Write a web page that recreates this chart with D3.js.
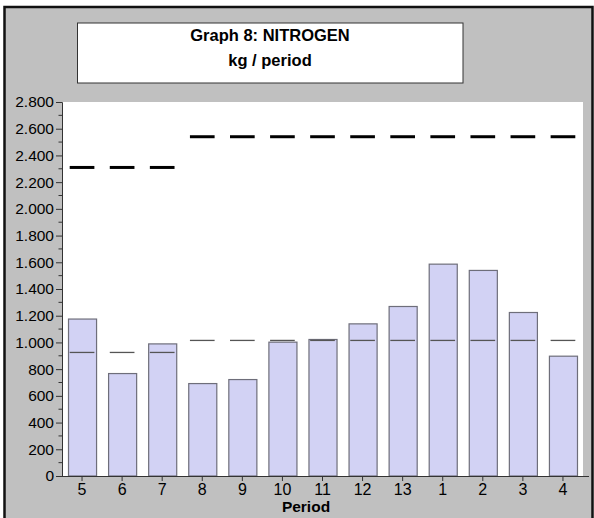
<!DOCTYPE html>
<html>
<head>
<meta charset="utf-8">
<script src="https://cdn.jsdelivr.net/npm/d3@7/dist/d3.min.js"></script>
<style>
  html, body { margin: 0; padding: 0; background: #ffffff; }
  svg { display: block; font-family: Arial, "Liberation Sans", sans-serif; }
</style>
</head>
<body>
<svg id="chart" width="594" height="518"></svg>
<script>
const categories = ["5","6","7","8","9","10","11","12","13","1","2","3","4"];
const nitrogen   = [1175, 767, 989, 692, 722, 1002, 1022, 1139, 1269, 1586, 1539, 1224, 897];
const average    = [925, 925, 925, 1015, 1015, 1015, 1015, 1015, 1015, 1015, 1015, 1015, 1015];
const limit      = [2310, 2310, 2310, 2540, 2540, 2540, 2540, 2540, 2540, 2540, 2540, 2540, 2540];
const yTicks     = [0, 200, 400, 600, 800, 1000, 1200, 1400, 1600, 1800, 2000, 2200, 2400, 2600, 2800];
const titleLines = ["Graph 8: NITROGEN", "kg / period"];
const xTitle     = "Period";

const svg = d3.select("#chart");

// frame
svg.append("rect").attr("x", 4.5).attr("y", 7).attr("width", 588).attr("height", 520)
  .attr("fill", "#c0c0c0").attr("stroke", "#111").attr("stroke-width", 2.5);

const plot = {left: 62, right: 583, top: 102, bottom: 476};

const x = d3.scaleBand().domain(categories).range([plot.left, plot.right])
  .paddingInner(0.3).paddingOuter(0.15);
const y = d3.scaleLinear().domain([0, 2800]).range([plot.bottom, plot.top]);

// plot background
svg.append("rect").attr("x", plot.left).attr("y", plot.top)
  .attr("width", plot.right - plot.left).attr("height", plot.bottom - plot.top)
  .attr("fill", "#ffffff");

// title box
svg.append("rect").attr("x", 77.5).attr("y", 23).attr("width", 385.5).attr("height", 60)
  .attr("fill", "#ffffff").attr("stroke", "#333").attr("stroke-width", 1);
svg.selectAll("text.title").data(titleLines).join("text").attr("class", "title")
  .attr("x", 270).attr("y", (d, i) => 41 + i * 25)
  .attr("text-anchor", "middle").attr("font-weight", "bold").attr("font-size", 16.5)
  .attr("fill", "#000").text(d => d);

// bars
const data = categories.map((c, i) => ({c, v: nitrogen[i], a: average[i], l: limit[i]}));
svg.selectAll("rect.bar").data(data).join("rect").attr("class", "bar")
  .attr("x", d => x(d.c) + 0.5).attr("y", d => y(d.v))
  .attr("width", x.bandwidth()).attr("height", d => y(0) - y(d.v))
  .attr("fill", "#d2d2f4").attr("stroke", "#6e6e7a").attr("stroke-width", 1.2);

const segW = x.bandwidth() * 0.88;
// average thin lines
svg.selectAll("line.avg").data(data).join("line").attr("class", "avg")
  .attr("x1", d => x(d.c) + x.bandwidth() / 2 - segW / 2)
  .attr("x2", d => x(d.c) + x.bandwidth() / 2 + segW / 2)
  .attr("y1", d => y(d.a)).attr("y2", d => y(d.a))
  .attr("stroke", "#555").attr("stroke-width", 1.3);
// limit thick dashes
svg.selectAll("line.lim").data(data).join("line").attr("class", "lim")
  .attr("x1", d => x(d.c) + x.bandwidth() / 2 - segW / 2)
  .attr("x2", d => x(d.c) + x.bandwidth() / 2 + segW / 2)
  .attr("y1", d => y(d.l)).attr("y2", d => y(d.l))
  .attr("stroke", "#000").attr("stroke-width", 3);

// y axis
const fmt = v => v >= 1000 ? Math.floor(v / 1000) + "." + String(v % 1000).padStart(3, "0") : String(v);
const yAxis = d3.axisLeft(y).tickValues(yTicks).tickFormat(fmt).tickSize(6).tickPadding(2);
const gy = svg.append("g").attr("transform", `translate(${plot.left},0)`).call(yAxis);
gy.select(".domain").attr("stroke", "#333");
gy.selectAll(".tick line").attr("stroke", "#333");
gy.selectAll(".tick text").attr("font-size", 15.5).attr("fill", "#000")
  .attr("font-family", "Arial, 'Liberation Sans', sans-serif");
const minor = d3.range(100, 2800, 200);
svg.append("g").selectAll("line").data(minor).join("line")
  .attr("x1", plot.left - 3.5).attr("x2", plot.left).attr("y1", d => y(d)).attr("y2", d => y(d))
  .attr("stroke", "#333");

// x axis
const xAxis = d3.axisBottom(x).tickSize(5).tickPadding(3).tickSizeOuter(0);
const gx = svg.append("g").attr("transform", `translate(0,${plot.bottom})`).call(xAxis);
gx.select(".domain").remove();
gx.selectAll(".tick line").attr("stroke", "#333");
gx.selectAll(".tick text").attr("font-size", 16).attr("fill", "#000")
  .attr("font-family", "Arial, 'Liberation Sans', sans-serif");
svg.append("line").attr("x1", plot.left - 6).attr("x2", 589).attr("y1", plot.bottom + 0.5).attr("y2", plot.bottom + 0.5)
  .attr("stroke", "#333");

svg.append("text").attr("x", 306).attr("y", 512).attr("text-anchor", "middle")
  .attr("font-weight", "bold").attr("font-size", 15.5).attr("fill", "#000").text(xTitle);
</script>
</body>
</html>
